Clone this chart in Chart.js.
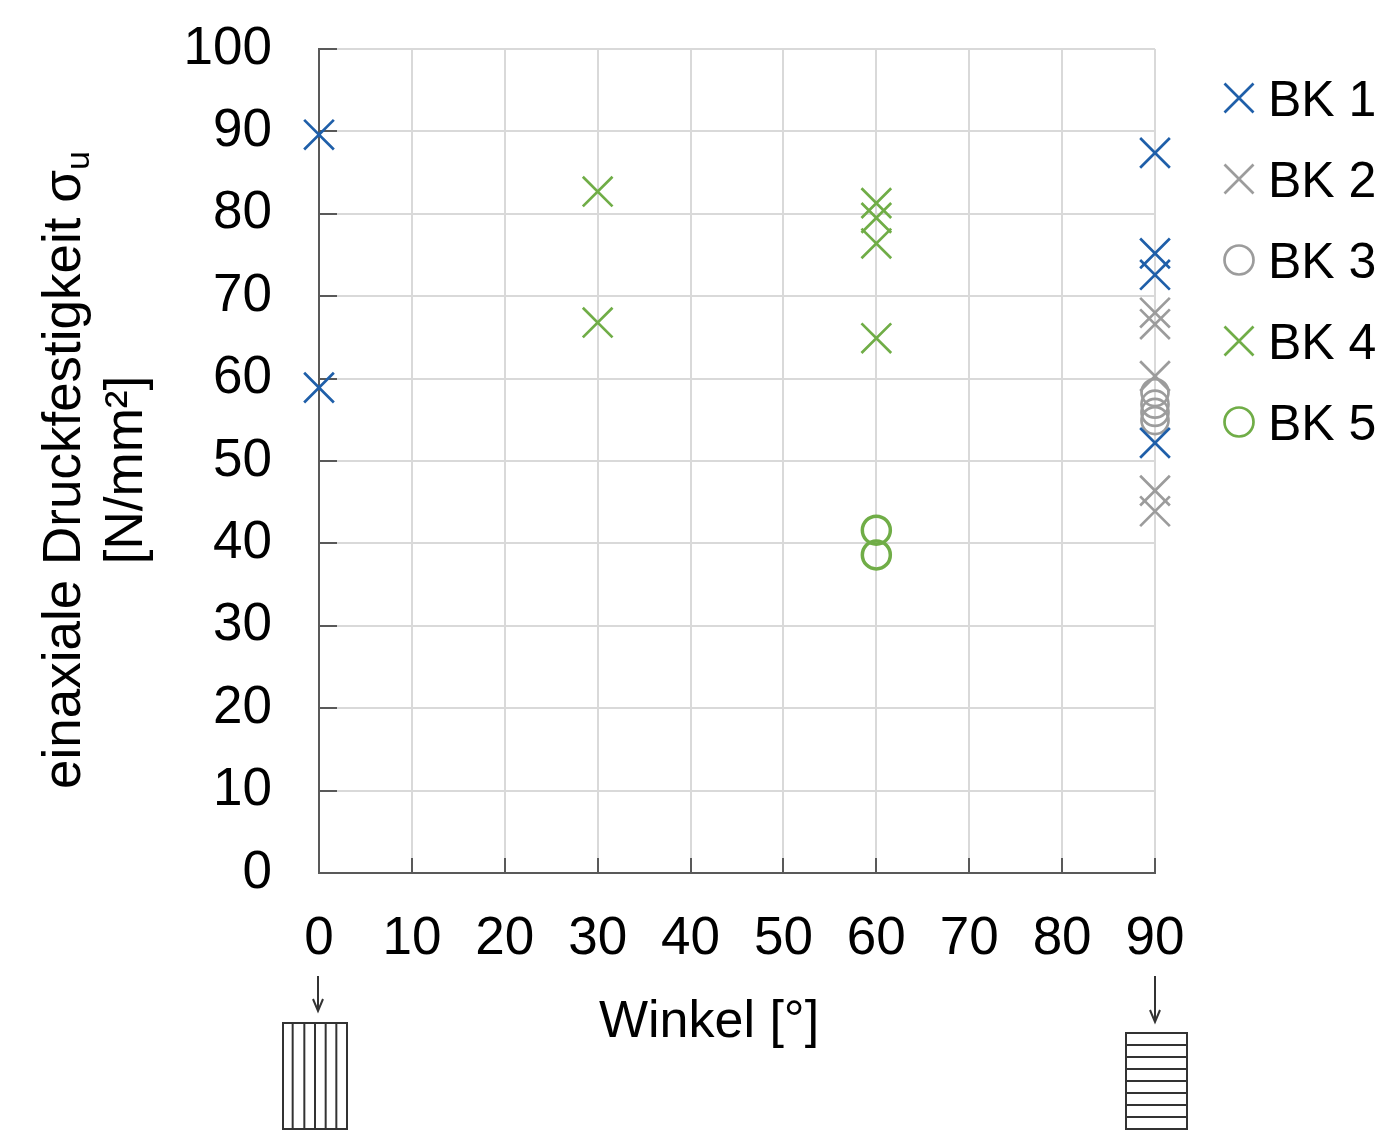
<!DOCTYPE html>
<html lang="de">
<head>
<meta charset="utf-8">
<title>Druckfestigkeit über Winkel</title>
<script src="https://cdn.jsdelivr.net/npm/chart.js@4.4.1/dist/chart.umd.min.js"></script>
<style>
    html, body { margin: 0; padding: 0; background: #fff; }
    #wrap { width: 1386px; height: 1132px; }
</style>
</head>
<body>
<div id="wrap"><canvas id="scatterChart" width="1386" height="1132"></canvas></div>
<script>
// Daten
const bk1Winkel = [0, 0, 90, 90, 90, 90];
const bk1Festigkeit = [89.6, 58.9, 87.4, 75.2, 72.6, 52.2];

const bk2Winkel = [90, 90, 90, 90, 90];
const bk2Festigkeit = [68.0, 66.6, 60.3, 46.4, 43.9];

const bk3Winkel = [90, 90, 90, 90];
const bk3Festigkeit = [58.3, 56.9, 55.9, 54.9];

const bk4Winkel = [30, 30, 60, 60, 60, 60];
const bk4Festigkeit = [82.7, 66.8, 81.3, 79.5, 76.4, 64.9];

const bk5Winkel = [60, 60];
const bk5Festigkeit = [41.6, 38.6];

const xTicks = [0, 10, 20, 30, 40, 50, 60, 70, 80, 90];
const yTicks = [0, 10, 20, 30, 40, 50, 60, 70, 80, 90, 100];

const FONT = "'Liberation Sans', Arial, sans-serif";
const BLAU = '#1f5fa9';
const GRAU = '#9c9c9c';
const GRUEN = '#70ad47';
const ACHSE = '#595959';
const GITTER = '#d9d9d9';

function punkte(xs, ys) {
    return xs.map((x, i) => ({ x: x, y: ys[i] }));
}

const serien = [
    { label: 'BK 1', data: punkte(bk1Winkel, bk1Festigkeit), farbe: BLAU, stil: 'crossRot', r: 21, bw: 2.7 },
    { label: 'BK 2', data: punkte(bk2Winkel, bk2Festigkeit), farbe: GRAU, stil: 'crossRot', r: 21, bw: 2.7 },
    { label: 'BK 3', data: punkte(bk3Winkel, bk3Festigkeit), farbe: GRAU, stil: 'circle', r: 13.5, bw: 2.7 },
    { label: 'BK 4', data: punkte(bk4Winkel, bk4Festigkeit), farbe: GRUEN, stil: 'crossRot', r: 21, bw: 2.7 },
    { label: 'BK 5', data: punkte(bk5Winkel, bk5Festigkeit), farbe: GRUEN, stil: 'circle', r: 14, bw: 3.5 }
];

// Achsentitel, Legende und Probenskizzen
const extras = {
    id: 'extras',
    afterDraw(chart) {
        const ctx = chart.ctx;
        const area = chart.chartArea;
        const xs = chart.scales.x;
        ctx.save();
        ctx.fillStyle = '#000';

        // y-Titel mit Index
        const midY = (area.top + area.bottom) / 2 + 9;
        ctx.save();
        ctx.translate(80, midY);
        ctx.rotate(-Math.PI / 2);
        ctx.textBaseline = 'alphabetic';
        ctx.textAlign = 'left';
        const haupt = 'einaxiale Druckfestigkeit σ';
        ctx.font = '53px ' + FONT;
        const wHaupt = ctx.measureText(haupt).width;
        ctx.font = '34px ' + FONT;
        const wSub = ctx.measureText('u').width;
        const start = -(wHaupt + wSub) / 2;
        ctx.font = '53px ' + FONT;
        ctx.fillText(haupt, start, 0);
        ctx.font = '34px ' + FONT;
        ctx.fillText('u', start + wHaupt, 9);
        ctx.restore();

        ctx.save();
        ctx.translate(142, midY);
        ctx.rotate(-Math.PI / 2);
        ctx.textAlign = 'center';
        ctx.textBaseline = 'alphabetic';
        ctx.font = '53px ' + FONT;
        ctx.fillText('[N/mm²]', 0, 0);
        ctx.restore();

        // x-Titel
        ctx.font = '52px ' + FONT;
        ctx.textAlign = 'center';
        ctx.textBaseline = 'alphabetic';
        ctx.fillText('Winkel [°]', (area.left + area.right) / 2 - 28, area.bottom + 164);

        // Legende
        const lx = area.right + 84;
        chart.data.datasets.forEach((ds, i) => {
            const ly = area.top + 49 + i * 81;
            ctx.strokeStyle = ds.borderColor;
            ctx.lineWidth = 2.7;
            ctx.beginPath();
            if (ds.pointStyle === 'circle') {
                ctx.arc(lx, ly, 14.5, 0, Math.PI * 2);
            } else {
                ctx.moveTo(lx - 14.5, ly - 14.5);
                ctx.lineTo(lx + 14.5, ly + 14.5);
                ctx.moveTo(lx + 14.5, ly - 14.5);
                ctx.lineTo(lx - 14.5, ly + 14.5);
            }
            ctx.stroke();
            ctx.fillStyle = '#000';
            ctx.font = '50px ' + FONT;
            ctx.textAlign = 'left';
            ctx.textBaseline = 'alphabetic';
            ctx.fillText(ds.label, lx + 29, ly + 18);
        });

        // Probenskizzen bei 0° und 90°
        ctx.strokeStyle = '#333';
        ctx.fillStyle = '#333';
        ctx.lineWidth = 2;
        const pfeil = (x, y1, y2) => {
            ctx.beginPath();
            ctx.moveTo(x, y1);
            ctx.lineTo(x, y2);
            ctx.moveTo(x - 5, y2 - 12);
            ctx.lineTo(x, y2);
            ctx.lineTo(x + 5, y2 - 12);
            ctx.stroke();
        };
        const x0 = xs.getPixelForValue(0);
        pfeil(x0 - 1, area.bottom + 103, area.bottom + 138);
        const l0 = x0 - 36, t0 = area.bottom + 150, b0 = area.bottom + 256, w0 = 64;
        ctx.strokeRect(l0, t0, w0, b0 - t0);
        for (let k = 1; k < 6; k++) {
            const vx = l0 + k * w0 / 6 + (k === 1 ? -1 : 0);
            ctx.beginPath();
            ctx.moveTo(vx, t0);
            ctx.lineTo(vx, b0);
            ctx.stroke();
        }
        const x90 = xs.getPixelForValue(90);
        pfeil(x90, area.bottom + 103, area.bottom + 149);
        const l9 = x90 - 29, t9 = area.bottom + 160, b9 = area.bottom + 256, w9 = 61;
        ctx.strokeRect(l9, t9, w9, b9 - t9);
        for (let k = 1; k < 8; k++) {
            const hy = t9 + k * (b9 - t9) / 8;
            ctx.beginPath();
            ctx.moveTo(l9, hy);
            ctx.lineTo(l9 + w9, hy);
            ctx.stroke();
        }
        ctx.restore();
    }
};

const ctx = document.getElementById('scatterChart').getContext('2d');
new Chart(ctx, {
    type: 'scatter',
    data: {
        datasets: serien.map(s => ({
            label: s.label,
            data: s.data,
            pointStyle: s.stil,
            pointRadius: s.r,
            pointHoverRadius: s.r,
            borderColor: s.farbe,
            backgroundColor: 'rgba(0,0,0,0)',
            pointBorderWidth: s.bw,
            borderWidth: s.bw,
            clip: false
        }))
    },
    options: {
        responsive: false,
        animation: false,
        events: [],
        layout: { padding: { top: 49, right: 231, left: 0, bottom: 0 } },
        plugins: {
            legend: { display: false },
            tooltip: { enabled: false },
            title: { display: false }
        },
        scales: {
            x: {
                type: 'linear',
                min: 0,
                max: 90,
                afterBuildTicks: (scale) => { scale.ticks = xTicks.map(v => ({ value: v })); },
                afterFit: (scale) => {
                    scale.height = 259;
                    scale.paddingLeft = 0;
                    scale.paddingRight = 0;
                },
                border: { display: true, color: ACHSE, width: 2 },
                grid: {
                    color: GITTER,
                    lineWidth: 2,
                    drawTicks: true,
                    tickLength: -15,
                    tickColor: ACHSE,
                    tickWidth: 2
                },
                ticks: {
                    color: '#000',
                    padding: 50,
                    maxRotation: 0,
                    autoSkip: false,
                    font: { family: FONT, size: 53 }
                }
            },
            y: {
                type: 'linear',
                min: 0,
                max: 100,
                afterBuildTicks: (scale) => { scale.ticks = yTicks.map(v => ({ value: v })); },
                afterFit: (scale) => {
                    scale.width = 319;
                    scale.paddingTop = 0;
                    scale.paddingBottom = 0;
                },
                border: { display: true, color: ACHSE, width: 2 },
                grid: {
                    color: (c) => (c.tick && c.tick.value === 0 ? 'rgba(0,0,0,0)' : GITTER),
                    lineWidth: 2,
                    drawTicks: true,
                    tickLength: -18,
                    tickColor: ACHSE,
                    tickWidth: 2
                },
                ticks: {
                    color: '#000',
                    padding: 65,
                    autoSkip: false,
                    font: { family: FONT, size: 53 }
                }
            }
        }
    },
    plugins: [extras]
});
</script>
</body>
</html>
